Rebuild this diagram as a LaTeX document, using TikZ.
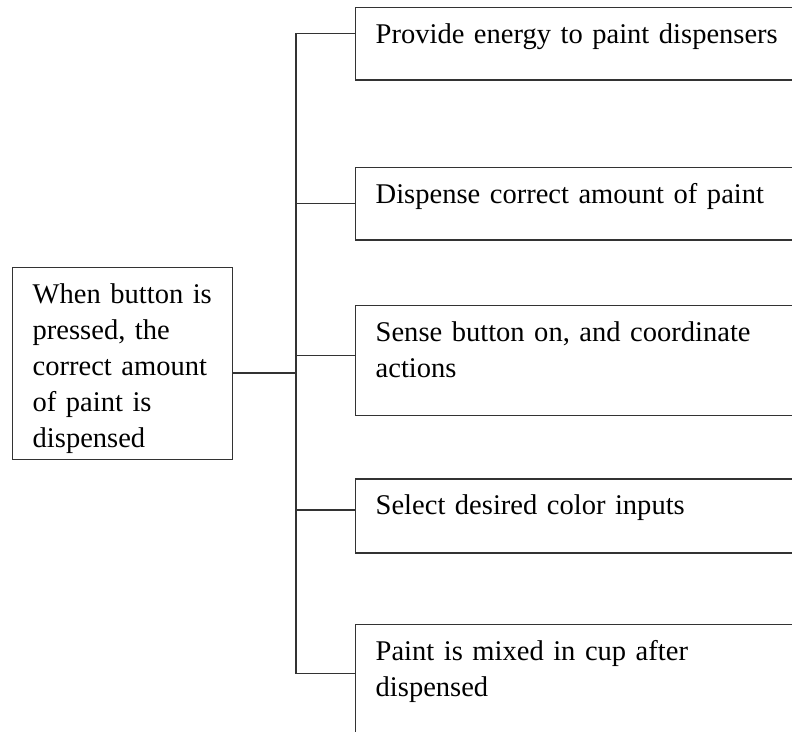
\documentclass[tikz,border=0pt]{standalone}
\usepackage{fontspec}
\setmainfont{Liberation Serif}
\usetikzlibrary{positioning}

\begin{document}
\begin{tikzpicture}[
  box/.style={rectangle, draw=black!80, line width=1pt, align=left,
              font=\fontsize{20.3}{25.6}\selectfont, text width=11cm,
              inner xsep=0.5cm, inner ysep=0.4cm, anchor=north west},
  goalbox/.style={box, text width=4.5cm},
  link/.style={draw=black!80, line width=1pt},
  node distance=1.6cm
]
\useasboundingbox (0,0) rectangle (19.8,-18.3);
\node[goalbox, text depth=3.5cm] (goal) at (0.3,-6.675)
  {When button is\\pressed, the\\correct amount\\of paint is\\dispensed};
\node[box, text depth=0.51cm] (pw) at (8.875,-0.175) {Provide energy to paint dispensers};
\node[box, text depth=0.51cm, below=2.15cm of pw] (ds) {Dispense correct amount of paint};
\node[box, text depth=1.46cm, below=of ds] (sb) {Sense button on, and coordinate\\actions};
\node[box, text depth=0.56cm, below=1.55cm of sb] (sc) {Select desired color inputs};
\node[box, text depth=1.51cm, below=1.75cm of sc] (mx) {Paint is mixed in cup after\\dispensed};
\coordinate (jn) at (7.4,-9.325);
\draw[link] (goal.east |- jn) -- (jn);
\draw[link] (jn) |- ([yshift=0.26cm]pw.west);
\draw[link] (jn) |- (ds.west);
\draw[link] (jn) |- ([yshift=0.125cm]sb.west);
\draw[link] (jn) |- ([yshift=0.15cm]sc.west);
\draw[link] (jn) |- ([yshift=0.175cm]mx.west);
\end{tikzpicture}
\end{document}
